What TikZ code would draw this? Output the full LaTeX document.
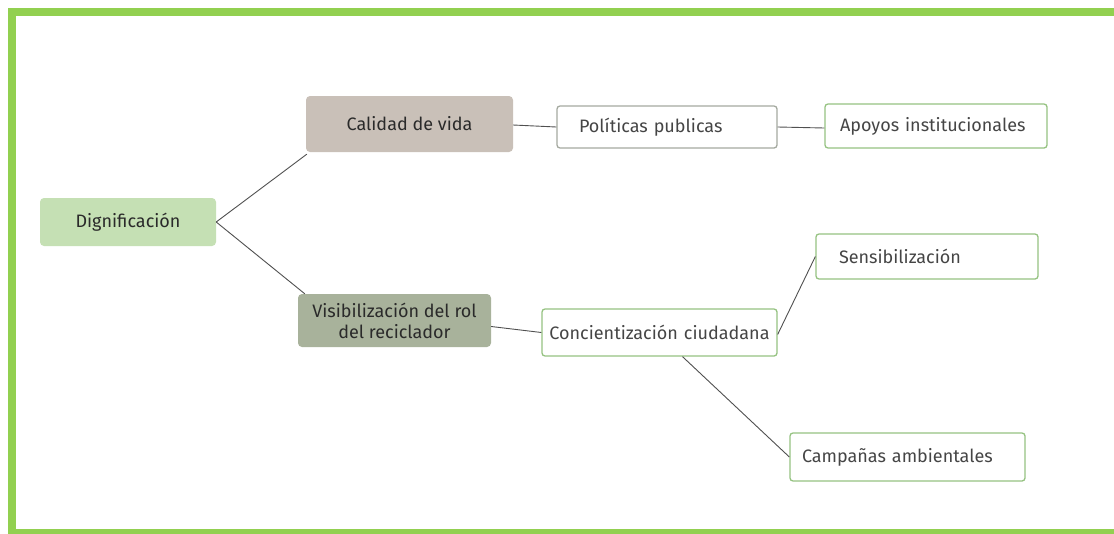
\documentclass[tikz,border=0pt]{standalone}
\usepackage{fontspec}
\setmainfont{Fira Sans}
\definecolor{framegreen}{HTML}{92D050}
\definecolor{digfill}{HTML}{C5E0B4}
\definecolor{calfill}{HTML}{C9C0B8}
\definecolor{visfill}{HTML}{A8B29B}
\definecolor{boxgreen}{HTML}{96C382}
\definecolor{boxgray}{HTML}{A5AAA0}
\definecolor{linkgray}{HTML}{505050}
\definecolor{txtdark}{HTML}{2A2A2A}
\definecolor{txtgray}{HTML}{454545}
\tikzset{
  filledbox/.style={rounded corners=4pt, text=txtdark, align=center, inner sep=0pt,
    font=\fontsize{18}{21}\selectfont},
  outlinebox/.style={draw=boxgreen, line width=1.3pt, fill=white, rounded corners=3pt,
    text=txtgray, align=left, inner ysep=0pt, font=\fontsize{18}{21}\selectfont},
  link/.style={draw=linkgray, line width=0.9pt}
}
\begin{document}
\begin{tikzpicture}[x=1pt,y=-1pt]
\useasboundingbox (0,0) rectangle (1114,533);
\fill[white] (0,0) rectangle (1114,533);
\begin{scope}
\clip (0,0) rectangle (1114,533);
\draw[framegreen, line width=8pt] (12,12) rectangle (1124,533);
\end{scope}

\node[filledbox, fill=digfill, minimum width=176pt, minimum height=48pt] (dig) at (128,222) {Dignificación};
\node[filledbox, fill=calfill, minimum width=207pt, minimum height=56pt] (cal) at (409.5,124) {Calidad de vida};
\node[filledbox, fill=visfill, minimum width=193pt, minimum height=53pt] (vis) at (394.5,320.5) {Visibilización del rol\\del reciclador};

\node[outlinebox, draw=boxgray, inner xsep=22pt, text width=176pt, minimum height=42pt] (pol) at (667,127) {Políticas publicas};
\node[outlinebox, inner xsep=15pt, text width=192pt, minimum height=44pt] (apo) at (936,126) {Apoyos institucionales};
\node[outlinebox, inner xsep=23pt, text width=176pt, minimum height=45pt] (sen) at (927,256.5) {Sensibilización};
\node[outlinebox, align=center, inner xsep=5pt, text width=225pt, minimum height=47pt] (con) at (659.5,332.5) {Concientización ciudadana};
\node[outlinebox, inner xsep=12pt, text width=211pt, minimum height=48pt] (cam) at (907.5,457) {Campañas ambientales};

\draw[link] (dig.east) -- ([xshift=1pt,yshift=-2pt]cal.south west);
\draw[link] (dig.east) -- ([xshift=7pt]vis.north west);
\draw[link] ([yshift=-1pt]cal.east) -- (pol.west);
\draw[link] (pol.east) -- ([yshift=-2pt]apo.west);
\draw[link] ([yshift=-6pt]vis.east) -- (con.west);
\draw[link] ([yshift=-2pt]con.east) -- (sen.west);
\draw[link] ([xshift=23pt]con.south) -- (cam.west);
\end{tikzpicture}
\end{document}
